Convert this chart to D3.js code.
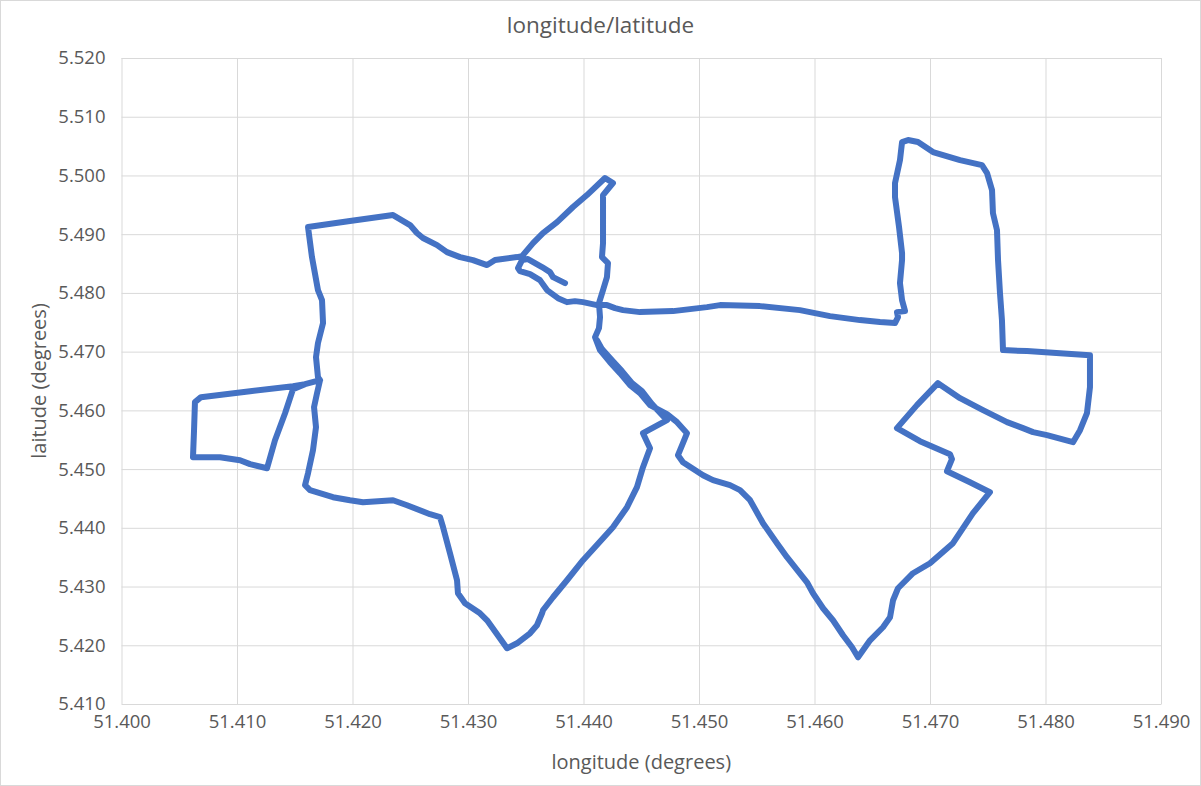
<!DOCTYPE html>
<html>
<head>
<meta charset="utf-8">
<script src="https://cdn.jsdelivr.net/npm/d3@7"></script>
<style>
  body { margin: 0; background: #fff; }
  svg text { font-family: "Open Sans", "Noto Sans", sans-serif; fill: #595959; }
</style>
</head>
<body>
<div class="chart"></div>
<script>
// GPS track (degrees)
const lon = [
  51.43840, 51.43736, 51.43710, 51.43641, 51.43519, 51.43468, 51.43433, 51.43450, 51.43537, 51.43623,
  51.43684, 51.43779, 51.43857, 51.43926, 51.43996, 51.44117, 51.44203, 51.44273, 51.44342, 51.44489,
  51.44775, 51.45069, 51.45182, 51.45528, 51.45874, 51.46134, 51.46394, 51.46567, 51.46697, 51.46723,
  51.46714, 51.46784, 51.46758, 51.46740, 51.46758, 51.46758, 51.46732, 51.46697, 51.46697, 51.46740,
  51.46758, 51.46810, 51.46896, 51.47026, 51.47260, 51.47450, 51.47494, 51.47537, 51.47545, 51.47580,
  51.47589, 51.47606, 51.47623, 51.47632, 51.47840, 51.48126, 51.48385, 51.48385, 51.48359, 51.48299,
  51.48238, 51.48013, 51.47892, 51.47805, 51.47667, 51.47459, 51.47260, 51.47069, 51.46887, 51.46714,
  51.46913, 51.47173, 51.47190, 51.47147, 51.47346, 51.47519, 51.47372, 51.47199, 51.47000, 51.46853,
  51.46723, 51.46680, 51.46654, 51.46593, 51.46481, 51.46377, 51.46325, 51.46247, 51.46160, 51.46074,
  51.45987, 51.45935, 51.45762, 51.45675, 51.45554, 51.45442, 51.45355, 51.45268, 51.45121, 51.45035,
  51.44861, 51.44818, 51.44861, 51.44896, 51.44810, 51.44723, 51.44576, 51.44489, 51.44403, 51.44316,
  51.44229, 51.44143, 51.44100, 51.44134, 51.44143, 51.44134, 51.44169, 51.44203, 51.44212, 51.44160,
  51.44169, 51.44169, 51.44169, 51.44169, 51.44255, 51.44186, 51.44030, 51.43909, 51.43771, 51.43649,
  51.43563, 51.43468, 51.43424, 51.43234, 51.43165, 51.43043, 51.42931, 51.42818, 51.42732, 51.42610,
  51.42558, 51.42498, 51.42351, 51.41978, 51.41615, 51.41649, 51.41701, 51.41736, 51.41745, 51.41701,
  51.41684, 51.41701, 51.41719, 51.41589, 51.41485, 51.41113, 51.40688, 51.40636, 51.40628, 51.40619,
  51.40853, 51.41026, 51.41113, 51.41260, 51.41329, 51.41416, 51.41485, 51.41589, 51.41719, 51.41693,
  51.41667, 51.41684, 51.41658, 51.41615, 51.41589, 51.41632, 51.41831, 51.41978, 51.42091, 51.42351,
  51.42472, 51.42671, 51.42758, 51.42784, 51.42844, 51.42905, 51.42913, 51.42974, 51.43104, 51.43165,
  51.43338, 51.43424, 51.43537, 51.43597, 51.43641, 51.43649, 51.43736, 51.43857, 51.43996, 51.44169,
  51.44255, 51.44377, 51.44463, 51.44515, 51.44576, 51.44515, 51.44723, 51.44593, 51.44506, 51.44420,
  51.44333, 51.44247, 51.44160, 51.44117
];
const lat = [
  5.48167, 5.48269, 5.48354, 5.48440, 5.48576, 5.48559, 5.48422, 5.48371, 5.48320, 5.48218,
  5.48048, 5.47911, 5.47843, 5.47860, 5.47843, 5.47792, 5.47792, 5.47741, 5.47707, 5.47673,
  5.47690, 5.47758, 5.47792, 5.47775, 5.47707, 5.47605, 5.47537, 5.47503, 5.47486, 5.47588,
  5.47673, 5.47690, 5.47877, 5.48167, 5.48559, 5.48678, 5.49121, 5.49632, 5.49871, 5.50262,
  5.50569, 5.50603, 5.50569, 5.50399, 5.50262, 5.50177, 5.50041, 5.49751, 5.49359, 5.49070,
  5.48559, 5.47997, 5.47537, 5.47026, 5.47009, 5.46974, 5.46940, 5.46395, 5.45952, 5.45663,
  5.45458, 5.45578, 5.45629, 5.45697, 5.45799, 5.46003, 5.46208, 5.46463, 5.46089, 5.45697,
  5.45475, 5.45254, 5.45169, 5.44964, 5.44777, 5.44606, 5.44249, 5.43738, 5.43397, 5.43227,
  5.42971, 5.42767, 5.42477, 5.42307, 5.42085, 5.41796, 5.41966, 5.42170, 5.42426, 5.42630,
  5.42886, 5.43073, 5.43499, 5.43738, 5.44078, 5.44470, 5.44641, 5.44726, 5.44811, 5.44896,
  5.45118, 5.45237, 5.45441, 5.45612, 5.45799, 5.45935, 5.46089, 5.46293, 5.46429, 5.46634,
  5.46821, 5.47026, 5.47247, 5.47400, 5.47588, 5.47826, 5.48048, 5.48269, 5.48508, 5.48610,
  5.48848, 5.49121, 5.49411, 5.49666, 5.49871, 5.49956, 5.49666, 5.49462, 5.49206, 5.49019,
  5.48848, 5.48627, 5.48610, 5.48559, 5.48474, 5.48559, 5.48610, 5.48695, 5.48814, 5.48934,
  5.49019, 5.49155, 5.49325, 5.49223, 5.49121, 5.48610, 5.48048, 5.47877, 5.47486, 5.47145,
  5.46906, 5.46566, 5.46515, 5.46446, 5.46412, 5.46327, 5.46225, 5.46140, 5.45663, 5.45203,
  5.45203, 5.45152, 5.45084, 5.45015, 5.45492, 5.45952, 5.46361, 5.46446, 5.46515, 5.46293,
  5.46055, 5.45714, 5.45322, 5.44930, 5.44726, 5.44641, 5.44521, 5.44470, 5.44436, 5.44470,
  5.44385, 5.44232, 5.44181, 5.44010, 5.43567, 5.43107, 5.42886, 5.42716, 5.42545, 5.42426,
  5.41949, 5.42034, 5.42204, 5.42341, 5.42545, 5.42596, 5.42818, 5.43107, 5.43448, 5.43823,
  5.44010, 5.44351, 5.44692, 5.45032, 5.45356, 5.45612, 5.45833, 5.46106, 5.46327, 5.46463,
  5.46668, 5.46855, 5.47043, 5.47196
];
const xTicks = [51.40, 51.41, 51.42, 51.43, 51.44, 51.45, 51.46, 51.47, 51.48, 51.49];
const yTicks = [5.41, 5.42, 5.43, 5.44, 5.45, 5.46, 5.47, 5.48, 5.49, 5.50, 5.51, 5.52];

const W = 1201, H = 786;
let margin = { top: 58, right: 40, bottom: 82, left: 121.5 },
  width = 1161 - margin.left,
  height = H - margin.top - margin.bottom;

let svg = d3.select(".chart").append("svg")
  .attr("width", W)
  .attr("height", H);

// chart border
svg.append("rect")
  .attr("x", 0.5).attr("y", 0.5)
  .attr("width", W - 1).attr("height", H - 1)
  .attr("fill", "#fff")
  .attr("stroke", "#D9D9D9");

let g = svg.append("g")
  .attr("transform", "translate(" + margin.left + "," + margin.top + ")");

let x = d3.scaleLinear().domain([51.40, 51.49]).range([0, width]);
let y = d3.scaleLinear().domain([5.41, 5.52]).range([height, 0]);
const fmt = d3.format(".3f");

// GRID
g.append("g")
  .attr("class", "x-grid")
  .attr("transform", "translate(0," + height + ")")
  .call(d3.axisBottom(x).tickValues(xTicks).tickSize(-height).tickFormat(""))
  .call(s => s.select(".domain").remove())
  .selectAll("line").attr("stroke", "#D9D9D9");

g.append("g")
  .attr("class", "y-grid")
  .call(d3.axisLeft(y).tickValues(yTicks).tickSize(-width).tickFormat(""))
  .call(s => s.select(".domain").remove())
  .selectAll("line").attr("stroke", "#D9D9D9");

// AXES (labels only)
let xAxis = g.append("g")
  .attr("class", "x-axis")
  .attr("transform", "translate(0," + height + ")")
  .call(d3.axisBottom(x).tickValues(xTicks).tickSize(0).tickPadding(11).tickFormat(fmt));
xAxis.select(".domain").attr("stroke", "#D9D9D9");
xAxis.selectAll("text").attr("font-size", 18.5).attr("fill", "#595959");

let yAxis = g.append("g")
  .attr("class", "y-axis")
  .call(d3.axisLeft(y).tickValues(yTicks).tickSize(0).tickPadding(16).tickFormat(fmt));
yAxis.select(".domain").remove();
yAxis.selectAll("text").attr("font-size", 18.5).attr("fill", "#595959");

// TRACK
const track = lon.map((d, i) => [d, lat[i]]);
g.append("path")
  .datum(track)
  .attr("fill", "none")
  .attr("stroke", "#4472C4")
  .attr("stroke-width", 6)
  .attr("stroke-linejoin", "round")
  .attr("stroke-linecap", "round")
  .attr("d", d3.line().x(d => x(d[0])).y(d => y(d[1])));

// TITLES
svg.append("text")
  .attr("x", W / 2)
  .attr("y", 33)
  .attr("text-anchor", "middle")
  .attr("font-size", 22.5)
  .text("longitude/latitude");

svg.append("text")
  .attr("x", margin.left + width / 2)
  .attr("y", 769)
  .attr("text-anchor", "middle")
  .attr("font-size", 20)
  .text("longitude (degrees)");

svg.append("text")
  .attr("transform", "translate(46," + (margin.top + height / 2) + ") rotate(-90)")
  .attr("text-anchor", "middle")
  .attr("font-size", 20)
  .text("laitude (degrees)");
</script>
</body>
</html>
